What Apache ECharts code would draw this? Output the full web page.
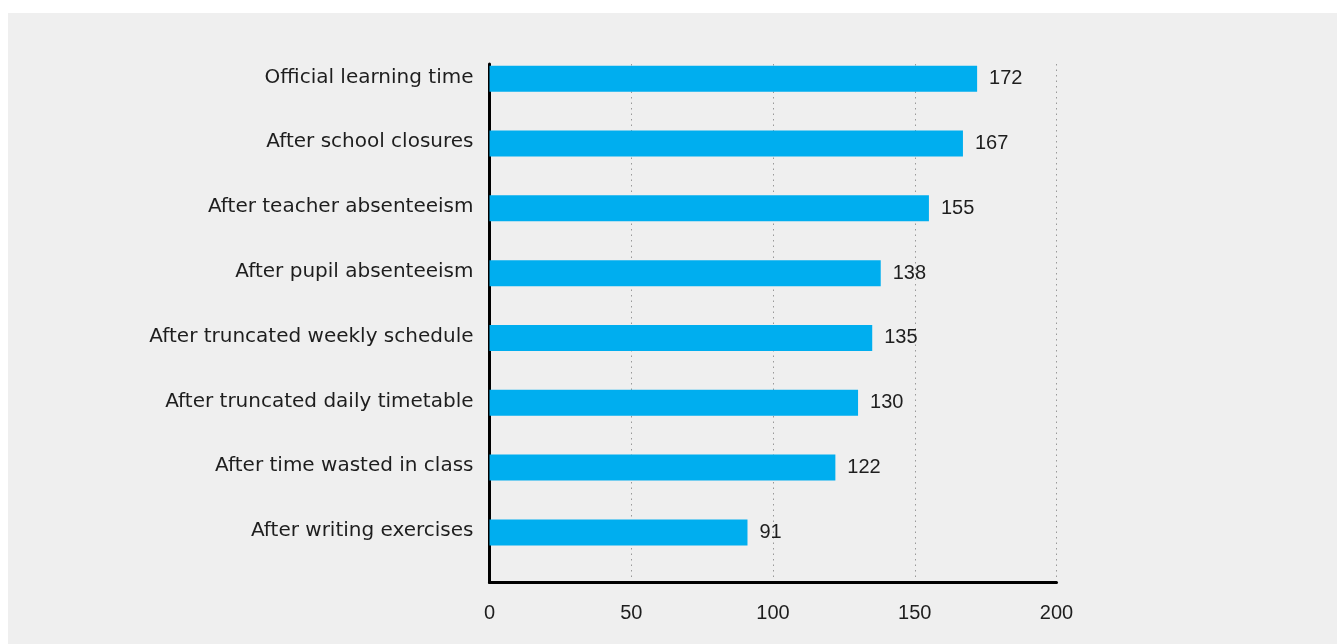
<!DOCTYPE html>
<html>
<head>
<meta charset="utf-8">
<style>
    html, body { margin: 0; padding: 0; background: #fff; }
    #chart-1 { position: absolute; left: 8px; top: 13px; width: 1329px; height: 631px; }
</style>
<script src="https://cdn.jsdelivr.net/npm/echarts@6/dist/echarts.min.js"></script>
</head>
<body>
<div id="chart-1"></div>
<script>
// data
var categories = [
    'Official learning time',
    'After school closures',
    'After teacher absenteeism',
    'After pupil absenteeism',
    'After truncated weekly schedule',
    'After truncated daily timetable',
    'After time wasted in class',
    'After writing exercises'
];
var days = [172, 167, 155, 138, 135, 130, 122, 91];
var xTicks = [0, 50, 100, 150, 200];

initChart1();

function initChart1() {
    var dom = document.getElementById("chart-1");
    var myChart1 = echarts.init(dom);
    var textColor = '#1e1e1e';
    var numFont = '"Liberation Sans", Arial, sans-serif';
    var catFont = '"DejaVu Sans", sans-serif';
    var option = {
        backgroundColor: '#efefef',
        animation: false,
        grid: {
            left: 481.5,
            right: 280.5,
            top: 51,
            bottom: 61.5,
            containLabel: false
        },
        xAxis: {
            type: 'value',
            min: xTicks[0],
            max: xTicks[xTicks.length - 1],
            interval: 50,
            axisLine: {
                show: true,
                lineStyle: { color: '#000', width: 3 }
            },
            axisTick: { show: false },
            axisLabel: {
                color: textColor,
                fontSize: 20,
                fontFamily: numFont,
                margin: 21
            },
            splitLine: {
                show: true,
                lineStyle: { color: '#999', width: 1, type: [1.5, 4] }
            }
        },
        yAxis: {
            type: 'category',
            inverse: true,
            data: categories,
            axisLine: {
                show: true,
                lineStyle: { color: '#000', width: 3 }
            },
            axisTick: { show: false },
            axisLabel: {
                color: textColor,
                fontSize: 20,
                fontFamily: catFont,
                margin: 16,
                // lift the label up to the bar, which sits at the top of its band
                verticalAlign: 'bottom',
                lineHeight: 38
            }
        },
        series: [{
                name: 'Days',
                type: 'bar',
                data: days,
                barWidth: 26,
                barGap: '36%',
                itemStyle: { color: '#00aeef' },
                label: {
                    show: true,
                    position: 'right',
                    distance: 12,
                    color: textColor,
                    fontSize: 20,
                    fontFamily: numFont
                }
            },
            {
                // empty spacer so the bars sit at the top of each band
                name: 'spacer',
                type: 'bar',
                data: [],
                barWidth: 26,
                silent: true
            }
        ]
    };
    if (option && typeof option === "object") {
        myChart1.setOption(option, true);
        window.onresize = myChart1.resize;
    }
}
</script>
</body>
</html>
